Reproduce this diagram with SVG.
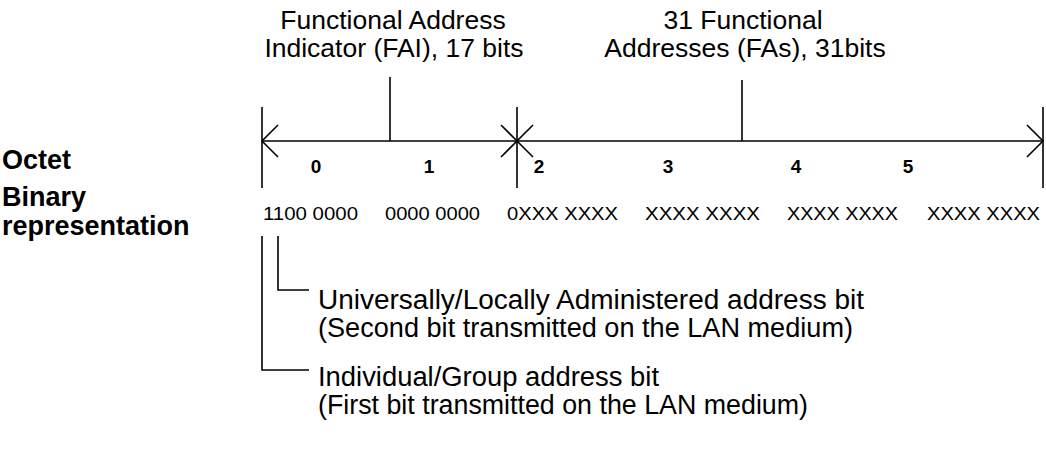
<svg xmlns="http://www.w3.org/2000/svg" width="1046" height="453" viewBox="0 0 1046 453">
<style>
.t{font-family:"Liberation Sans",Arial,sans-serif;font-size:26.5px;fill:#000}
.s{font-family:"Liberation Sans",Arial,sans-serif;font-size:27px;fill:#000}
.b{font-family:"Liberation Sans",Arial,sans-serif;font-size:27px;font-weight:bold;fill:#000}
.d{font-family:"Liberation Sans",Arial,sans-serif;font-size:19px;font-weight:bold;fill:#000}
.n{font-family:"Liberation Sans",Arial,sans-serif;font-size:18px;fill:#000}
.ln{stroke:#000;stroke-width:1.6;fill:none}
</style>
<rect width="1046" height="453" fill="#fff"/>
<g id="row-labels">
<text class="b" x="2" y="169">Octet</text>
<text class="b" x="2" y="206">Binary</text>
<text class="b" x="2" y="235">representation</text>
</g>
<g id="fai-label">
<text class="t" x="393" y="29" text-anchor="middle">Functional Address</text>
<text class="t" x="394" y="57" text-anchor="middle">Indicator (FAI), 17 bits</text>
</g>
<g id="fa-label">
<text class="t" x="743" y="29" text-anchor="middle">31 Functional</text>
<text class="t" x="745" y="57" text-anchor="middle">Addresses (FAs), 31bits</text>
</g>
<g id="octets">
<text class="d" x="316" y="173" text-anchor="middle">0</text>
<text class="d" x="429" y="173" text-anchor="middle">1</text>
<text class="d" x="539" y="173" text-anchor="middle">2</text>
<text class="d" x="668" y="173" text-anchor="middle">3</text>
<text class="d" x="796" y="173" text-anchor="middle">4</text>
<text class="d" x="908" y="173" text-anchor="middle">5</text>
</g>
<g id="binary">
<text class="n" x="263" y="220" textLength="95" lengthAdjust="spacingAndGlyphs">1100 0000</text>
<text class="n" x="385" y="220" textLength="95" lengthAdjust="spacingAndGlyphs">0000 0000</text>
<text class="n" x="507" y="220" textLength="111" lengthAdjust="spacingAndGlyphs">0XXX XXXX</text>
<text class="n" x="645" y="220" textLength="115" lengthAdjust="spacingAndGlyphs">XXXX XXXX</text>
<text class="n" x="787" y="220" textLength="111" lengthAdjust="spacingAndGlyphs">XXXX XXXX</text>
<text class="n" x="927" y="220" textLength="113" lengthAdjust="spacingAndGlyphs">XXXX XXXX</text>
</g>
<g id="ul-bit">
<text class="s" x="318" y="309" textLength="546" lengthAdjust="spacingAndGlyphs">Universally/Locally Administered address bit</text>
<text class="s" x="318" y="337" textLength="535" lengthAdjust="spacingAndGlyphs">(Second bit transmitted on the LAN medium)</text>
</g>
<g id="ig-bit">
<text class="s" x="318" y="386" textLength="341" lengthAdjust="spacingAndGlyphs">Individual/Group address bit</text>
<text class="s" x="318" y="414" textLength="490" lengthAdjust="spacingAndGlyphs">(First bit transmitted on the LAN medium)</text>
</g>
<g id="connectors" class="ln">
<line x1="262" y1="141" x2="1043" y2="141"/>
<line x1="262" y1="107" x2="262" y2="188"/>
<line x1="517" y1="107" x2="517" y2="188"/>
<line x1="1043" y1="107" x2="1043" y2="188"/>
<line x1="390" y1="77" x2="390" y2="141"/>
<line x1="742" y1="80" x2="742" y2="141"/>
<polyline points="278,125 262,141 278,157"/>
<polyline points="501,125 517,141 501,157"/>
<polyline points="533,125 517,141 533,157"/>
<polyline points="1027,125 1043,141 1027,157"/>
<polyline points="278,236 278,290 309,290"/>
<polyline points="262,236 262,370 309,370"/>
</g>
</svg>
